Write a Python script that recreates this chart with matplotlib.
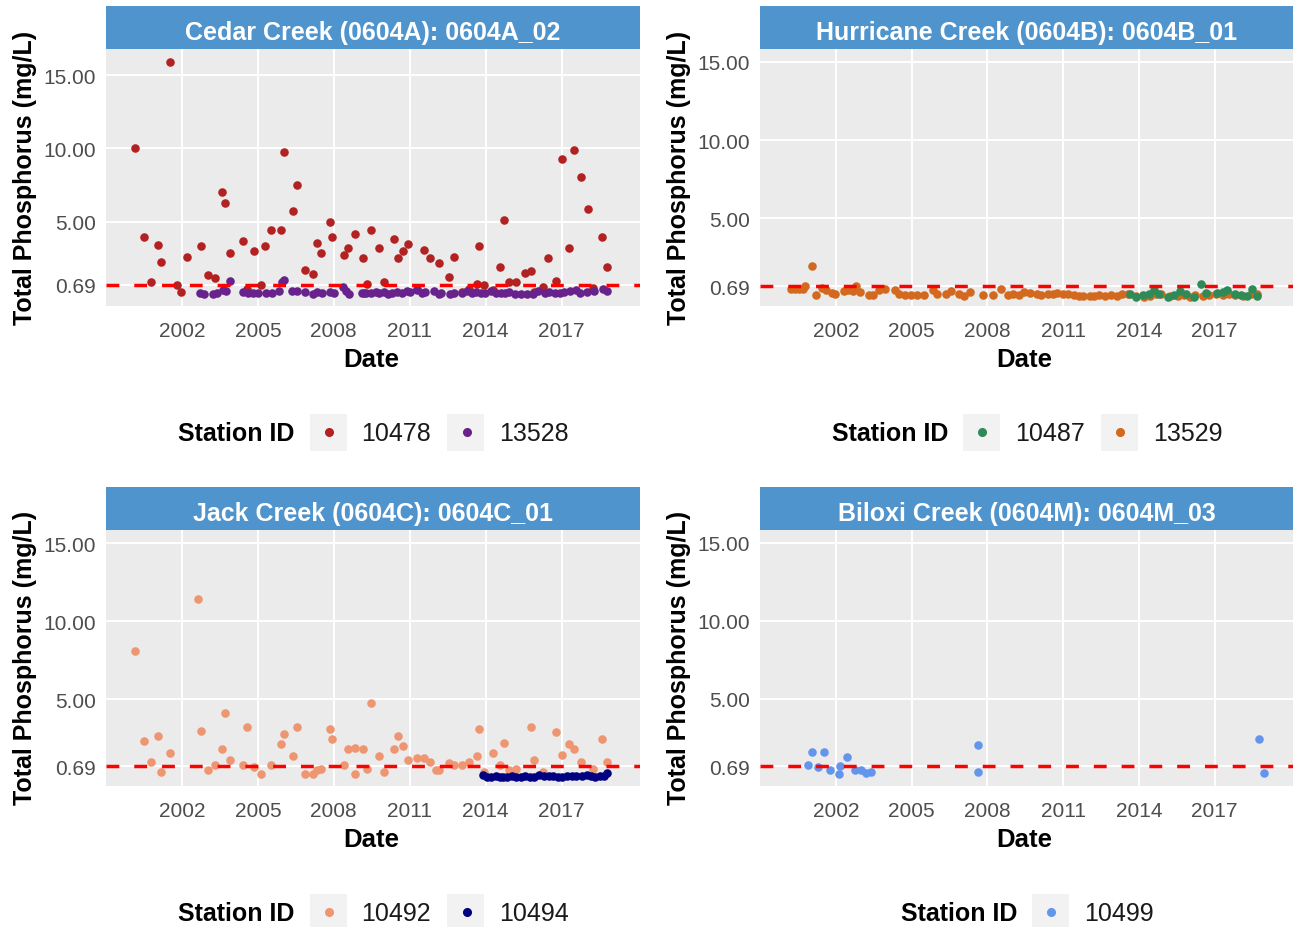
import matplotlib
matplotlib.use("Agg")
import matplotlib.pyplot as plt
from matplotlib.patches import Rectangle
from matplotlib.lines import Line2D

plt.rcParams['font.family'] = ['Liberation Sans', 'DejaVu Sans']

# ---- data (decimal year, total phosphorus mg/L) ----

cedar_10478_year = [
    2000.16, 2000.50, 2000.78, 2001.04, 2001.18, 2001.51, 2001.80, 2001.95, 2002.21, 2002.77,
    2003.03, 2003.29, 2003.57, 2003.71, 2003.91, 2004.40, 2004.59, 2004.85, 2005.12, 2005.28,
    2005.52, 2005.90, 2006.03, 2006.37, 2006.55, 2006.85, 2007.17, 2007.32, 2007.51, 2007.87,
    2007.92, 2008.41, 2008.56, 2008.82, 2009.16, 2009.31, 2009.49, 2009.77, 2009.98, 2010.39,
    2010.53, 2010.73, 2010.94, 2011.27, 2011.55, 2011.82, 2012.16, 2012.57, 2012.77, 2013.06,
    2013.34, 2013.66, 2013.75, 2013.94, 2014.28, 2014.56, 2014.74, 2014.94, 2015.21, 2015.57,
    2015.78, 2015.92, 2016.27, 2016.47, 2016.80, 2017.01, 2017.29, 2017.50, 2017.76, 2018.04,
    2018.25, 2018.59, 2018.79]
cedar_10478_tp = [
    10.0, 3.92, 0.83, 3.42, 2.25, 15.9, 0.64, 0.18, 2.59, 3.33,
    1.31, 1.12, 7.02, 6.28, 2.84, 3.69, 0.41, 2.96, 0.64, 3.33,
    4.40, 4.40, 9.75, 5.69, 7.48, 1.67, 1.42, 3.55, 2.84, 5.00,
    3.92, 2.73, 3.21, 4.15, 2.48, 0.71, 4.40, 3.19, 0.83, 3.81,
    2.48, 2.96, 3.44, 0.41, 3.07, 2.48, 2.13, 1.17, 2.59, 0.18,
    0.41, 0.71, 3.33, 0.64, 0.30, 1.88, 5.11, 0.83, 0.83, 1.51,
    1.63, 0.18, 0.55, 2.48, 0.94, 9.27, 3.19, 9.86, 8.07, 5.83,
    0.46, 3.92, 1.88]

cedar_13528_year = [
    2002.70, 2002.86, 2003.21, 2003.39, 2003.63, 2003.76, 2003.91, 2004.40, 2004.61, 2004.81,
    2005.02, 2005.31, 2005.54, 2005.85, 2005.95, 2006.03, 2006.34, 2006.54, 2006.86, 2007.17,
    2007.35, 2007.55, 2007.87, 2008.00, 2008.36, 2008.49, 2008.61, 2009.10, 2009.18, 2009.29,
    2009.46, 2009.67, 2009.80, 2009.99, 2010.16, 2010.29, 2010.48, 2010.68, 2010.89, 2011.02,
    2011.27, 2011.49, 2011.62, 2011.95, 2012.15, 2012.24, 2012.60, 2012.77, 2013.06, 2013.26,
    2013.45, 2013.63, 2013.83, 2013.99, 2014.20, 2014.40, 2014.61, 2014.76, 2014.94, 2015.18,
    2015.38, 2015.62, 2015.87, 2016.08, 2016.36, 2016.49, 2016.76, 2016.93, 2017.09, 2017.33,
    2017.58, 2017.74, 2017.99, 2018.28, 2018.64, 2018.80]
cedar_13528_tp = [
    0.14, 0.02, 0.02, 0.14, 0.32, 0.25, 0.94, 0.18, 0.14, 0.14,
    0.09, 0.14, 0.14, 0.23, 0.83, 1.01, 0.23, 0.23, 0.18, 0.05,
    0.18, 0.14, 0.18, 0.09, 0.55, 0.23, 0.05, 0.09, 0.14, 0.09,
    0.14, 0.18, 0.09, 0.18, 0.05, 0.14, 0.18, 0.14, 0.23, 0.18,
    0.32, 0.14, 0.18, 0.23, 0.02, 0.14, 0.02, 0.14, 0.14, 0.23,
    0.14, 0.18, 0.09, 0.14, 0.23, 0.09, 0.14, 0.14, 0.18, 0.02,
    0.05, 0.02, 0.05, 0.23, 0.14, 0.18, 0.14, 0.14, 0.18, 0.23,
    0.32, 0.09, 0.18, 0.23, 0.37, 0.23]

hurricane_13529_year = [
    2000.23, 2000.39, 2000.56, 2000.72, 2000.80, 2001.04, 2001.23, 2001.44, 2001.63, 2001.84,
    2001.95, 2002.32, 2002.48, 2002.67, 2002.80, 2002.96, 2003.33, 2003.49, 2003.72, 2003.93,
    2004.33, 2004.52, 2004.73, 2004.97, 2005.21, 2005.48, 2005.85, 2006.01, 2006.38, 2006.57,
    2006.86, 2007.06, 2007.30, 2007.83, 2008.21, 2008.53, 2008.82, 2009.01, 2009.24, 2009.46,
    2009.70, 2009.95, 2010.14, 2010.39, 2010.59, 2010.75, 2010.99, 2011.20, 2011.42, 2011.63,
    2011.79, 2012.06, 2012.22, 2012.43, 2012.67, 2012.91, 2013.12, 2013.32, 2013.56, 2013.88,
    2014.20, 2014.44, 2014.68, 2014.89, 2015.24, 2015.53, 2015.80, 2016.01, 2016.21, 2016.53,
    2016.77, 2017.04, 2017.33, 2017.57, 2017.81, 2018.13, 2018.42, 2018.69]
hurricane_13529_tp = [
    0.48, 0.48, 0.48, 0.48, 0.69, 1.95, 0.12, 0.54, 0.41, 0.26,
    0.16, 0.37, 0.46, 0.37, 0.69, 0.33, 0.12, 0.12, 0.41, 0.48,
    0.41, 0.16, 0.12, 0.12, 0.12, 0.12, 0.41, 0.20, 0.20, 0.37,
    0.16, 0.03, 0.29, 0.12, 0.12, 0.48, 0.12, 0.16, 0.12, 0.33,
    0.24, 0.16, 0.12, 0.16, 0.16, 0.24, 0.20, 0.16, 0.12, 0.07,
    0.03, 0.07, 0.03, 0.12, 0.03, 0.12, 0.07, 0.16, 0.20, 0.03,
    0.02, 0.07, 0.16, 0.20, 0.03, 0.07, 0.12, 0.02, 0.12, 0.03,
    0.12, 0.16, 0.12, 0.20, 0.12, 0.07, 0.20, 0.16]

hurricane_10487_year = [
    2013.64, 2013.88, 2014.15, 2014.41, 2014.60, 2014.79, 2015.16, 2015.40, 2015.64, 2015.88,
    2016.17, 2016.45, 2016.65, 2017.09, 2017.33, 2017.49, 2017.81, 2018.05, 2018.29, 2018.48,
    2018.69]
hurricane_10487_tp = [
    0.20, 0.02, 0.12, 0.20, 0.41, 0.16, 0.02, 0.12, 0.37, 0.16,
    0.02, 0.84, 0.24, 0.24, 0.33, 0.46, 0.16, 0.12, 0.07, 0.50,
    0.03]

jack_10492_year = [
    2000.16, 2000.50, 2000.78, 2001.04, 2001.18, 2001.51, 2002.62, 2002.77, 2003.03, 2003.29,
    2003.57, 2003.71, 2003.91, 2004.40, 2004.59, 2004.85, 2005.12, 2005.52, 2005.90, 2006.03,
    2006.37, 2006.55, 2006.85, 2007.17, 2007.32, 2007.51, 2007.87, 2007.92, 2008.41, 2008.56,
    2008.82, 2008.82, 2009.16, 2009.31, 2009.49, 2009.77, 2009.98, 2010.39, 2010.53, 2010.73,
    2010.94, 2011.27, 2011.55, 2011.82, 2012.03, 2012.16, 2012.57, 2012.77, 2013.06, 2013.34,
    2013.66, 2013.75, 2013.94, 2014.28, 2014.56, 2014.74, 2014.94, 2015.21, 2015.78, 2015.92,
    2016.27, 2016.80, 2017.01, 2017.29, 2017.50, 2017.76, 2018.25, 2018.59, 2018.79]
jack_10492_tp = [
    8.10, 2.33, 1.00, 2.67, 0.34, 1.56, 11.45, 2.99, 0.45, 0.79,
    1.80, 4.10, 1.11, 0.79, 3.23, 0.66, 0.21, 0.79, 2.11, 2.78,
    1.35, 3.23, 0.21, 0.21, 0.45, 0.56, 3.12, 2.44, 0.79, 1.80,
    1.90, 0.21, 1.80, 0.56, 4.79, 1.35, 0.34, 1.80, 2.67, 2.01,
    1.11, 1.24, 1.24, 1.00, 0.45, 0.45, 0.90, 0.79, 0.79, 1.00,
    1.35, 3.12, 0.34, 1.56, 0.79, 2.22, 0.45, 0.56, 3.23, 1.11,
    0.34, 2.88, 1.45, 2.11, 1.80, 1.00, 0.56, 2.44, 1.00]

jack_10494_year = [
    2013.91, 2014.07, 2014.23, 2014.40, 2014.56, 2014.69, 2014.85, 2015.05, 2015.21, 2015.38,
    2015.54, 2015.74, 2015.90, 2016.11, 2016.32, 2016.49, 2016.68, 2016.85, 2017.01, 2017.20,
    2017.42, 2017.58, 2017.79, 2017.99, 2018.18, 2018.31, 2018.51, 2018.67, 2018.80]
jack_10494_tp = [
    0.16, 0.04, 0.02, 0.06, 0.04, 0.02, 0.04, 0.06, 0.02, 0.04,
    0.06, 0.02, 0.04, 0.12, 0.06, 0.10, 0.08, 0.04, 0.02, 0.06,
    0.08, 0.10, 0.06, 0.12, 0.08, 0.02, 0.06, 0.10, 0.26]

biloxi_10499_year = [
    2000.91, 2001.04, 2001.29, 2001.52, 2001.78, 2002.11, 2002.18, 2002.45, 2002.77, 2002.98,
    2003.20, 2003.40, 2007.62, 2007.62, 2018.74, 2018.97]
biloxi_10499_tp = [
    0.79, 1.57, 0.64, 1.57, 0.47, 0.21, 0.70, 1.28, 0.47, 0.43,
    0.23, 0.34, 2.02, 0.34, 2.45, 0.23]

year_ticks = [2002, 2005, 2008, 2011, 2014, 2017]
tp_ticks = [0.69, 5, 10, 15]
tp_tick_labels = ["0.69", "5.00", "10.00", "15.00"]
threshold = 0.69

# ---- layout helpers (pixels -> figure fraction) ----
W, H = 1293, 928
fig = plt.figure(figsize=(W / 100, H / 100), dpi=100)


def fx(px):
    return px / W


def fy(py):
    return 1 - py / H


panels = [
    dict(box=(106, 50, 640, 307), title="Cedar Creek (0604A): 0604A_02", ylim=(-0.78, 16.8),
         series=[(cedar_10478_year, cedar_10478_tp, "#B22222", "10478"),
                 (cedar_13528_year, cedar_13528_tp, "#68228B", "13528")]),
    dict(box=(760, 50, 1293, 307), title="Hurricane Creek (0604B): 0604B_01", ylim=(-0.58, 15.8),
         series=[(hurricane_13529_year, hurricane_13529_tp, "#D2691E", "13529"),
                 (hurricane_10487_year, hurricane_10487_tp, "#2E8B57", "10487")],
         legend_order=[1, 0]),
    dict(box=(106, 531, 640, 787), title="Jack Creek (0604C): 0604C_01", ylim=(-0.56, 15.85),
         series=[(jack_10492_year, jack_10492_tp, "#EE9572", "10492"),
                 (jack_10494_year, jack_10494_tp, "#000080", "10494")]),
    dict(box=(760, 531, 1293, 787), title="Biloxi Creek (0604M): 0604M_03", ylim=(-0.58, 15.8),
         series=[(biloxi_10499_year, biloxi_10499_tp, "#6495ED", "10499")]),
]

for p in panels:
    l, t, r, b = p["box"]
    ax = fig.add_axes([fx(l), fy(b), (r - l) / W, (b - t) / H])
    ax.set_facecolor("#EBEBEB")
    for s in ax.spines.values():
        s.set_visible(False)
    ax.set_xlim(1999.0, 2020.1)
    ax.set_ylim(*p["ylim"])
    ax.set_xticks(year_ticks, labels=[str(y) for y in year_ticks])
    ax.set_yticks(tp_ticks, labels=tp_tick_labels)
    ax.grid(True, color="white", linewidth=1.4)
    ax.set_axisbelow(True)
    ax.tick_params(length=0, labelsize=15, labelcolor="#4D4D4D")
    ax.tick_params(axis="x", pad=11)
    ax.tick_params(axis="y", pad=7.5)

    for yrs, vals, col, lab in p["series"]:
        ax.scatter(yrs, vals, s=38, color=col, linewidths=0, zorder=3)
    ax.axhline(threshold, color="#FF0000", linewidth=2.5, dashes=(3.7, 4.3), zorder=4)

    # strip
    fig.add_artist(Rectangle((fx(l), fy(t)), (r - l) / W, 43 / H, transform=fig.transFigure,
                             facecolor="#4F94CD", edgecolor="none"))
    fig.text(fx((l + r) / 2), fy(t - 17), p["title"], ha="center", va="center",
             color="white", fontsize=18, fontweight="bold")

    # axis titles
    fig.text(fx(l - 81), fy((t + b) / 2 - 1), "Total Phosphorus (mg/L)", rotation=90,
             ha="center", va="center", fontsize=18, fontweight="bold")
    fig.text(fx((l + r) / 2 - 2), fy(b + 53), "Date", ha="center", va="center",
             fontsize=18.5, fontweight="bold")

    # legend below the panel
    entries = p["series"]
    if "legend_order" in p:
        entries = [p["series"][i] for i in p["legend_order"]]
    n = len(entries)
    yc = b + 126
    start = (l + r) / 2 - (113 + 138 * n) / 2
    fig.text(fx(start), fy(yc + 1), "Station ID", ha="left", va="center",
             fontsize=18, fontweight="bold")
    for i, (yrs, vals, col, lab) in enumerate(entries):
        kl = start + 131 + 138 * i
        fig.add_artist(Rectangle((fx(kl), fy(yc + 18.5)), 37 / W, 37 / H,
                                 transform=fig.transFigure, facecolor="#F2F2F2",
                                 edgecolor="none"))
        fig.add_artist(Line2D([fx(kl + 19)], [fy(yc)], marker="o", markersize=5.5,
                              color=col, linestyle="none", transform=fig.transFigure))
        fig.text(fx(kl + 52), fy(yc + 1), lab, ha="left", va="center", fontsize=18,
                 color="#1A1A1A")

fig.savefig("out.png", dpi=100)
